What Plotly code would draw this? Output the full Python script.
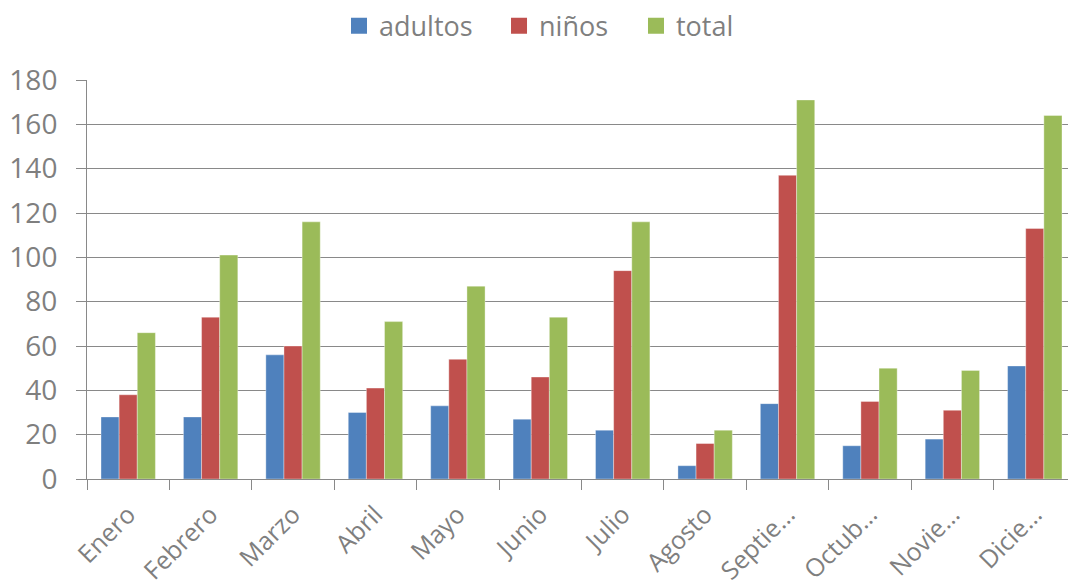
import plotly.graph_objects as go

meses = ["Enero", "Febrero", "Marzo", "Abril", "Mayo", "Junio", "Julio", "Agosto",
         "Septie…", "Octub…", "Novie…", "Dicie…"]
adultos = [28, 28, 56, 30, 33, 27, 22, 6, 34, 15, 18, 51]
ninos = [38, 73, 60, 41, 54, 46, 94, 16, 137, 35, 31, 113]
total = [66, 101, 116, 71, 87, 73, 116, 22, 171, 50, 49, 164]
y_ticks = [0, 20, 40, 60, 80, 100, 120, 140, 160, 180]

FONT = "Open Sans"
GREY_TXT = "#7f7f7f"
GRID = "#898989"

series = [("adultos", adultos, "#4F81BD", "legend", 0.2548),
          ("niños", ninos, "#C0504D", "legend2", 0.4166),
          ("total", total, "#9BBB59", "legend3", 0.5551)]

fig = go.Figure()
for name, vals, col, lg, lx in series:
    fig.add_trace(go.Bar(x=meses, y=vals, name=name, marker_color=col, showlegend=False,
                         marker_line=dict(color="rgba(255,255,255,0.6)", width=0.6)))
# legend entries with larger square symbols
for name, vals, col, lg, lx in series:
    fig.add_trace(go.Scatter(x=[None], y=[None], mode="markers", name=name, legend=lg,
                             marker=dict(symbol="square", size=18, color=col)))

legend_style = dict(orientation="h", y=1.135, yanchor="middle", xanchor="left",
                    font=dict(size=27, color=GREY_TXT), itemwidth=30,
                    bgcolor="rgba(0,0,0,0)")

# the page body adds an 8px offset, so the figure is 8px smaller than the window
fig.update_layout(
    width=1068, height=579,
    margin=dict(l=79, r=0, t=72, b=108, autoexpand=False),
    paper_bgcolor="white", plot_bgcolor="white",
    barmode="group", bargap=0.34, bargroupgap=0,
    font=dict(family=FONT, color=GREY_TXT, size=27),
    legend=dict(x=series[0][4], **legend_style),
    legend2=dict(x=series[1][4], **legend_style),
    legend3=dict(x=series[2][4], **legend_style),
    showlegend=True,
)
fig.update_yaxes(range=[0, 180], tickvals=y_ticks, showgrid=True, gridcolor=GRID, gridwidth=1,
                 showline=True, linecolor=GRID, linewidth=1, ticks="outside", ticklen=10,
                 tickcolor=GRID, tickfont=dict(size=28, color=GREY_TXT), ticklabelstandoff=13,
                 zeroline=False)
fig.update_xaxes(showline=True, linecolor=GRID, linewidth=1, ticks="outside", ticklen=10,
                 tickcolor=GRID, tickson="boundaries", tickangle=-45, ticklabelstandoff=10,
                 tickfont=dict(size=25, color=GREY_TXT), showgrid=False)

fig.write_html("out.html")
